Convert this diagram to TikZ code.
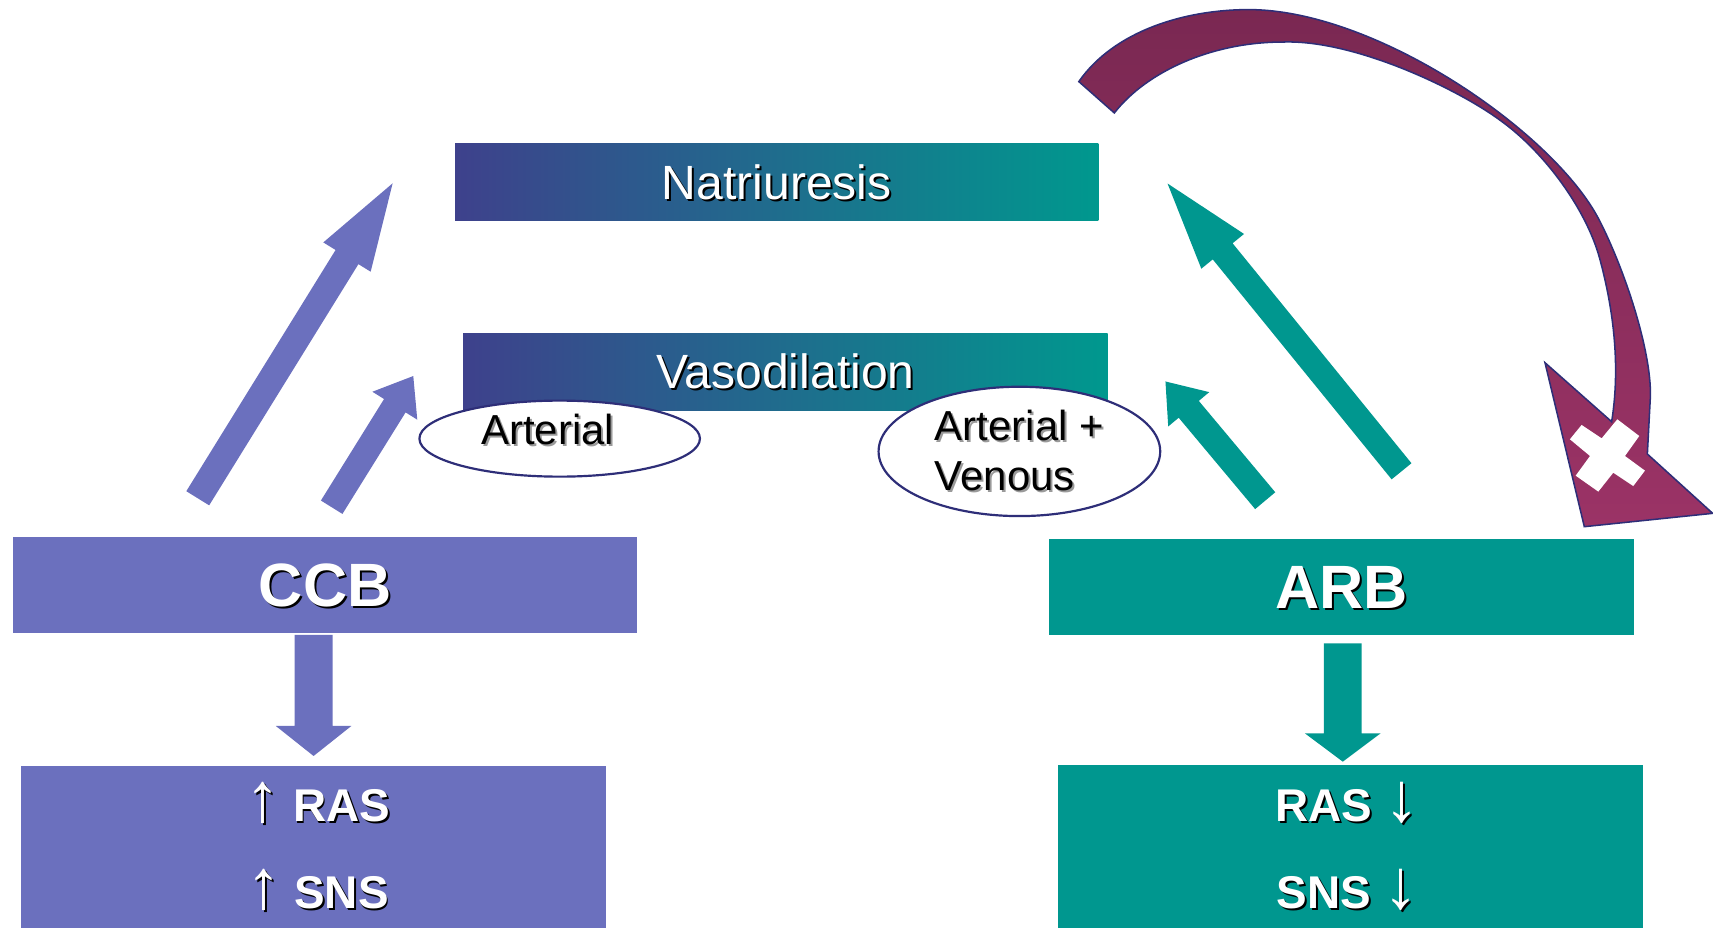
\documentclass[tikz,border=0pt]{standalone}
\usepackage{fontspec}
\setmainfont{Liberation Sans}
\usetikzlibrary{shapes.geometric,calc}
\definecolor{ccbc}{HTML}{6B70BE}
\definecolor{tealc}{HTML}{00978F}
\definecolor{gradl}{HTML}{3E418C}
\definecolor{gradr}{HTML}{00988E}
\definecolor{curvtop}{HTML}{7A2852}
\definecolor{curvbot}{HTML}{9B3366}
\definecolor{navyline}{HTML}{2E2E78}
\definecolor{shadowgray}{HTML}{9A9A9A}
\newcommand\shd[2]{\leavevmode\rlap{\kern0.9pt\raisebox{-0.9pt}{\textcolor{#1}{#2}}}#2}
\newcommand\thinup{{\mdseries\fontsize{32}{34}\selectfont ↑}}
\newcommand\thindown{{\mdseries\fontsize{32}{34}\selectfont ↓}}
% block arrow: #1 tail, #2 tip, #3 shaft half width, #4 head half width, #5 head length, #6 colour
\newcommand\blockarr[6]{%
  \coordinate (hb) at ($(#2)!#5!(#1)$);
  \fill[#6] ($(#1)!#3!90:(#2)$) -- ($(hb)!#3!90:(#2)$) -- ($(hb)!#4!90:(#2)$) -- (#2)
    -- ($(hb)!#4!-90:(#2)$) -- ($(hb)!#3!-90:(#2)$) -- ($(#1)!#3!-90:(#2)$) -- cycle;
}
\begin{document}
\begin{tikzpicture}[x=0.5pt,y=-0.5pt]
\tikzset{
  gbox/.style={rectangle, inner sep=0pt, left color=gradl, right color=gradr, text=white,
    font=\fontsize{22}{26}\selectfont, text height=15.75pt, text depth=0pt},
  ccbbox/.style={rectangle, inner sep=0pt, fill=ccbc, text=white},
  arbbox/.style={rectangle, inner sep=0pt, fill=tealc, text=white},
  bigtxt/.style={font=\fontsize{28}{32}\bfseries\selectfont, text height=20.05pt, text depth=0pt},
  oval/.style={ellipse, draw=navyline, line width=1pt, fill=white, inner sep=0pt, text=black,
    font=\fontsize{19.2}{22.9}\selectfont},
  efftxt/.style={anchor=base, inner sep=0pt, text=white, font=\fontsize{21}{25}\bfseries\selectfont},
}
\useasboundingbox (0,0) rectangle (1568,849);

% boxes
\node[gbox, minimum width=294.45pt, minimum height=35.1pt] (nat) at (711.05,166.9) {\shd{black}{Natriuresis}};
\node[gbox, minimum width=294.95pt, minimum height=35.1pt] (vaso) at (718.95,340.2) {\shd{black}{Vasodilation}};
\node[oval, minimum width=128.4pt, minimum height=34.8pt, text height=13.75pt, text depth=8.6pt] (art) at (512.3,401.5) {\shd{shadowgray}{Arterial}\kern11pt};
\node[oval, minimum width=128.9pt, minimum height=59.2pt, align=left] (artven) at (933.1,413.2) {\shd{shadowgray}{Arterial +}\\\shd{shadowgray}{Venous}};

\node[ccbbox, bigtxt, minimum width=285.85pt, minimum height=43.65pt] (ccb) at (297.65,535.45) {\shd{black}{CCB}};
\node[arbbox, bigtxt, minimum width=268.1pt, minimum height=43.9pt] (arb) at (1227.9,537.3) {\shd{black}{ARB}};
\node[ccbbox, minimum width=267.7pt, minimum height=73.95pt] (ccbeff) at (287.3,775.05) {};
\node[arbbox, minimum width=267.75pt, minimum height=74.4pt] (arbeff) at (1236.15,774.6) {};

\node[efftxt] (ras1) at (290.7,752.1) {\shd{black}{\thinup\ RAS}};
\node[efftxt] (sns1) at (290.7,831.4) {\shd{black}{\thinup\ SNS}};
\node[efftxt] (ras2) at (1233.4,752.1) {\shd{black}{RAS \thindown}};
\node[efftxt] (sns2) at (1233.4,831.4) {\shd{black}{SNS \thindown}};

% down arrows
\coordinate (d1t) at (287.05,581.2); \coordinate (d1h) at (287.05,692);
\blockarr{d1t}{d1h}{8.7pt}{17.3pt}{13.75pt}{ccbc}
\coordinate (d2t) at (1229.1,588.9); \coordinate (d2h) at (1229.1,697.2);
\blockarr{d2t}{d2h}{8.65pt}{17.3pt}{12.95pt}{tealc}

% diagonal arrows
\coordinate (a1t) at (181,456.1); \coordinate (a1h) at (359.4,167.8);
\blockarr{a1t}{a1h}{6.15pt}{12.75pt}{39.7pt}{ccbc}
\coordinate (a2t) at (303.6,464.3); \coordinate (a2h) at (378.3,344.2);
\blockarr{a2t}{a2h}{5.8pt}{12.1pt}{16pt}{ccbc}
\coordinate (a3t) at (1282.9,431.4); \coordinate (a3h) at (1068.7,168);
\blockarr{a3t}{a3h}{5.85pt}{12.6pt}{40pt}{tealc}
\coordinate (a4t) at (1158.1,458.3); \coordinate (a4h) at (1066.8,349.2);
\blockarr{a4t}{a4h}{6pt}{12.25pt}{16.6pt}{tealc}

% curved arrow
\path[draw=navyline, line width=0.7pt, top color=curvtop, bottom color=curvbot, line join=miter]
  (987.5,74.7) .. controls (1020,28) and (1085,8.8) .. (1143,8.8)
  .. controls (1260,8.8) and (1423,121.6) .. (1464,201.7)
  .. controls (1486.8,246.2) and (1511.5,320) .. (1510.7,362.5)
  -- (1507.9,415.6) -- (1567.7,469.9) -- (1450.2,482.1) -- (1414.2,332) -- (1475.2,386)
  .. controls (1481,350) and (1481.5,300) .. (1464.2,236.4)
  .. controls (1452.4,193) and (1415,140) .. (1373,110)
  .. controls (1335,82) and (1240,36) .. (1174,38.5)
  .. controls (1110,38.5) and (1050,65) .. (1020,103.4)
  -- cycle;
\fill[white] (1447.7,389.0) -- (1466.1,401.2) -- (1480.4,383.8) -- (1500.5,399.1) -- (1487.4,417.4) -- (1505.7,430.8) -- (1495,444.9) -- (1476.7,432.7) -- (1463,450) -- (1442.3,435.4) -- (1455.4,417.4) -- (1437,402.1) -- cycle;
\end{tikzpicture}
\end{document}
